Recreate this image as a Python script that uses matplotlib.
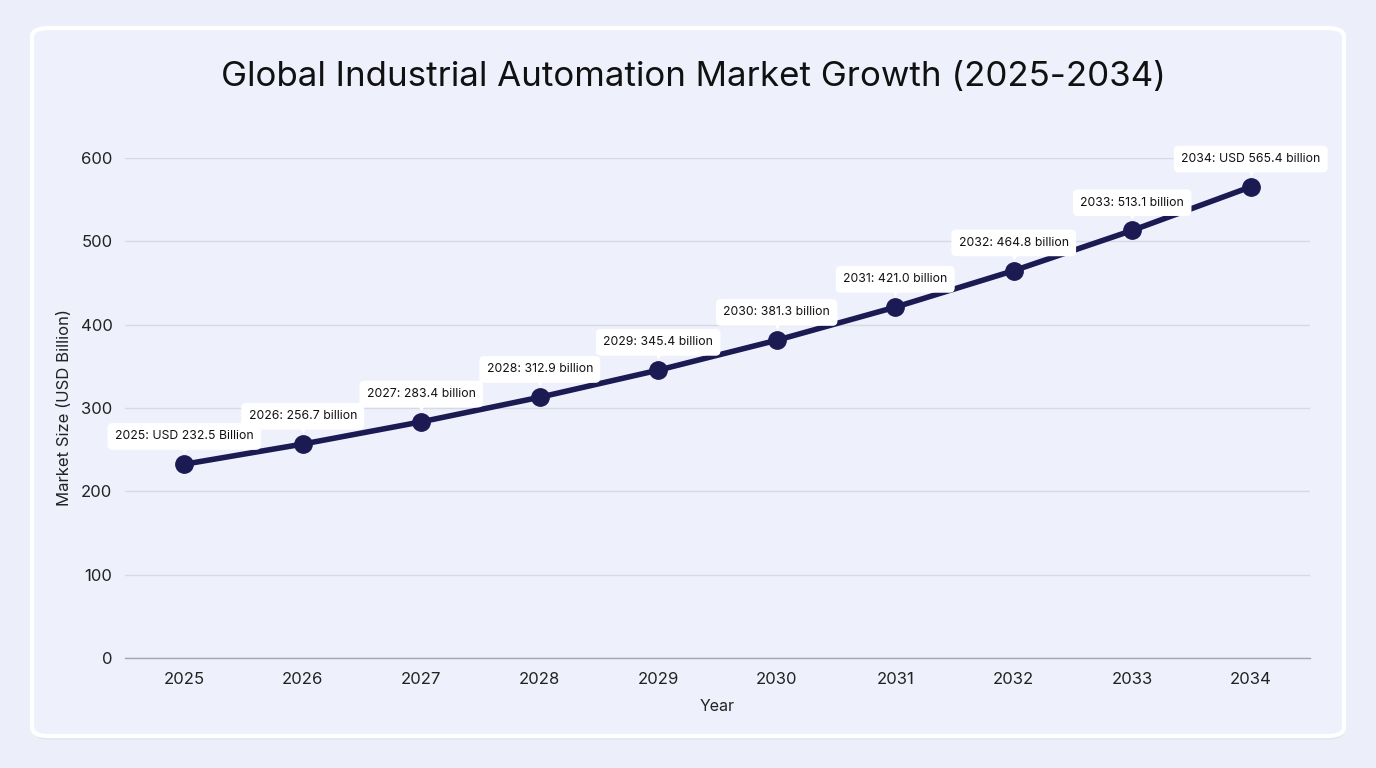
import matplotlib.pyplot as plt
from matplotlib.patches import FancyBboxPatch
from matplotlib.transforms import offset_copy

plt.rcParams['font.family'] = ['Inter', 'DejaVu Sans']

# data
years = ['2025', '2026', '2027', '2028', '2029', '2030', '2031', '2032', '2033', '2034']
market = [232.5, 256.7, 283.4, 312.9, 345.4, 381.3, 421.0, 464.8, 513.1, 565.4]
labels = ['2025: USD 232.5 Billion', '2026: 256.7 billion', '2027: 283.4 billion',
          '2028: 312.9 billion', '2029: 345.4 billion', '2030: 381.3 billion',
          '2031: 421.0 billion', '2032: 464.8 billion', '2033: 513.1 billion',
          '2034: USD 565.4 billion']
yticks = [0, 100, 200, 300, 400, 500, 600]

fig = plt.figure(figsize=(13.76, 7.68), dpi=100)
fig.patch.set_facecolor('#eceff9')

# card with soft shadow
shadow = FancyBboxPatch((34 / 1376, 1 - 740 / 768), 1310 / 1376, 708 / 768,
                        boxstyle='round,pad=0,rounding_size=0.012',
                        transform=fig.transFigure, facecolor='#dfe2ee',
                        edgecolor='none', alpha=0.6, zorder=-2)
card = FancyBboxPatch((32 / 1376, 1 - 736 / 768), 1312 / 1376, 708 / 768,
                      boxstyle='round,pad=0,rounding_size=0.012',
                      transform=fig.transFigure, facecolor='#eef1fc',
                      edgecolor='white', linewidth=3, zorder=-1)
fig.patches.extend([shadow, card])

ax = fig.add_axes([125 / 1376, 1 - 658 / 768, 1185 / 1376, 500 / 768])
ax.set_facecolor('none')

x = list(range(len(years)))
ax.plot(x, market, color='#1b1a52', linewidth=4, marker='o', markersize=12.5,
        markerfacecolor='#1b1a52', markeredgecolor='#1b1a52', zorder=3,
        solid_capstyle='round')

# tooltip style labels with a small pointer under each box
tri = offset_copy(ax.transData, fig=fig, x=0, y=15, units='dots')
ax.scatter(x, market, marker='v', s=40, color='white', transform=tri, zorder=4,
           linewidths=0)
for xi, yi, lab in zip(x, market, labels):
    ax.annotate(lab, (xi, yi), xytext=(0, 20), textcoords='offset points',
                ha='center', va='center', fontsize=8.8, color='#111111', zorder=5,
                bbox=dict(boxstyle='round,pad=0.6,rounding_size=0.4',
                          facecolor='white', edgecolor='none'))

ax.set_xlim(-0.5, len(years) - 0.5)
ax.set_ylim(0, 600)
ax.set_xticks(x)
ax.set_xticklabels(years)
ax.set_yticks(yticks)
ax.tick_params(axis='both', length=0, labelsize=12, colors='#222222', pad=10)
ax.tick_params(axis='y', pad=9)
ax.grid(axis='y', color='#d6d9e6', linewidth=1)
ax.set_axisbelow(True)
for s in ['top', 'right', 'left']:
    ax.spines[s].set_visible(False)
ax.spines['bottom'].set_color('#a3a5ad')
ax.spines['bottom'].set_linewidth(1)

ax.set_xlabel('Year', fontsize=11.5, color='#222222', labelpad=9)
ax.set_ylabel('Market Size (USD Billion)', fontsize=12, color='#222222', labelpad=6)

fig.text(693.5 / 1376, 1 - 77 / 768, 'Global Industrial Automation Market Growth (2025-2034)',
         ha='center', va='center', fontsize=25.1, color='#111111')

fig.savefig('out.png', dpi=100, facecolor=fig.get_facecolor())
